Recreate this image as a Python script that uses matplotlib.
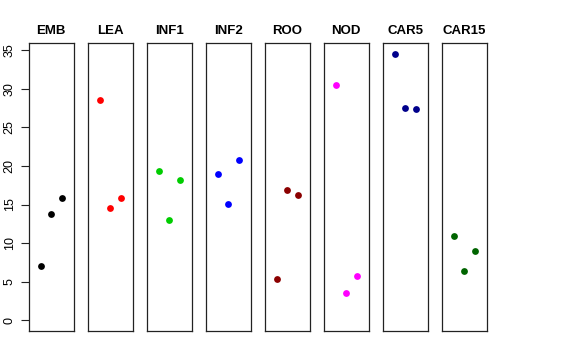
import matplotlib
matplotlib.use("Agg")
import matplotlib.pyplot as plt

plt.rcParams['font.family'] = ['Liberation Sans', 'DejaVu Sans']

categories = ["EMB", "LEA", "INF1", "INF2", "ROO", "NOD", "CAR5", "CAR15"]
colors = ["#000000", "#FF0000", "#00CD00", "#0000FF", "#8B0000", "#FF00FF", "#00008B", "#006400"]
x_pos = [1, 2, 3]
values = {
    "EMB":   [7.07, 13.8, 15.8],
    "LEA":   [28.6, 14.6, 15.9],
    "INF1":  [19.35, 13.0, 18.15],
    "INF2":  [18.97, 15.13, 20.8],
    "ROO":   [5.39, 16.9, 16.2],
    "NOD":   [30.5, 3.5, 5.74],
    "CAR5":  [34.5, 27.5, 27.4],
    "CAR15": [10.86, 6.38, 8.92],
}
y_ticks = [0, 5, 10, 15, 20, 25, 30, 35]

W, H = 576, 360
fig = plt.figure(figsize=(W / 100, H / 100), dpi=100)

left0 = 29.0
pw = 44.5
step = 59.0
top = 43.3
bottom = 331.0

ymax = max(max(v) for v in values.values())
yr = ymax - 0
ylim = (0 - 0.04 * yr, ymax + 0.04 * yr)

for i, cat in enumerate(categories):
    l = left0 + i * step
    ax = fig.add_axes([l / W, 1 - bottom / H, pw / W, (bottom - top) / H])
    ax.scatter(x_pos, values[cat], s=24, color=colors[i], zorder=3, linewidths=0)
    ax.set_xlim(2 - 2.08, 2 + 2.08)
    ax.set_ylim(*ylim)
    ax.set_xticks([])
    for sp in ax.spines.values():
        sp.set_linewidth(0.9)
        sp.set_color('#222222')
    ax.set_title(cat, fontsize=9.5, fontweight='bold', pad=6.5)
    if i == 0:
        ax.set_yticks(y_ticks)
        ax.set_yticklabels([str(t) for t in y_ticks], rotation=90, va='center', fontsize=9)
        ax.tick_params(axis='y', length=5.5, width=0.8, pad=4, colors='#222222', labelcolor='black')
    else:
        ax.set_yticks([])

fig.savefig("out.png", dpi=100)
